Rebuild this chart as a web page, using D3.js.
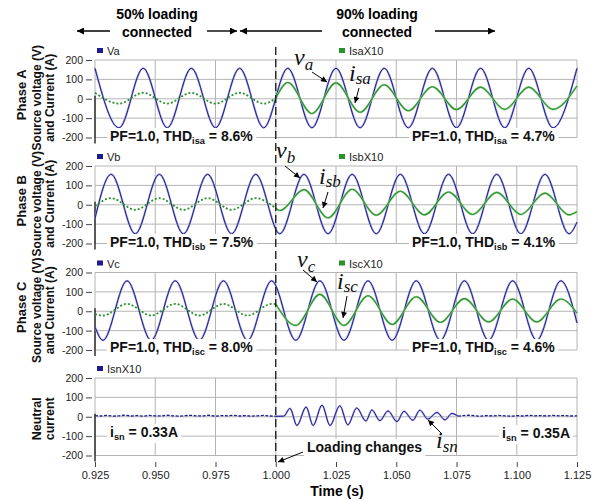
<!DOCTYPE html>
<html><head><meta charset="utf-8">
<script src="https://cdn.jsdelivr.net/npm/d3@7"></script>
<style>
body{margin:0;background:#fff;}
svg{display:block;font-family:"Liberation Sans",Arial,sans-serif;}
</style></head><body>
<svg id="c" width="606" height="500"></svg>
<script>
// ---------------- data ----------------
const timeTicks = [0.925,0.950,0.975,1.000,1.025,1.050,1.075,1.100,1.125];
const yTicks = [200,100,0,-100,-200];
const phaseNames = ["Phase A","Phase B","Phase C"];
const legendV = ["Va","Vb","Vc"];
const legendI = ["IsaX10","IsbX10","IscX10"];
const thdSub = ["isa","isb","isc"];
const thdBefore = ["8.6","7.5","8.0"];
const thdAfter = ["4.7","4.1","4.6"];
const isnBefore = "0.33";
const isnAfter = "0.35";

const vaPts = [[0.925,157],[0.935,-150],[0.945,157],[0.955,-150],[0.965,157],[0.975,-150],[0.985,157],[0.995,-150],[1.005,157],[1.015,-150],[1.025,157],[1.035,-150],[1.045,157],[1.055,-150],[1.065,157],[1.075,-150],[1.085,157],[1.095,-150],[1.105,157],[1.115,-150],[1.125,157]];
const vbPts = [[0.925,-70],[0.9317,157],[0.9417,-150],[0.9517,157],[0.9617,-150],[0.9717,157],[0.9817,-150],[0.9917,157],[1.0017,-150],[1.0117,157],[1.0217,-150],[1.0317,157],[1.0417,-150],[1.0517,157],[1.0617,-150],[1.0717,157],[1.0817,-150],[1.0917,157],[1.1017,-150],[1.1117,157],[1.1217,-150],[1.125,-90]];
const vcPts = [[0.925,-80],[0.9283,-150],[0.9383,157],[0.9483,-150],[0.9583,157],[0.9683,-150],[0.9783,157],[0.9883,-150],[0.9983,157],[1.0083,-150],[1.0183,157],[1.0283,-150],[1.0383,157],[1.0483,-150],[1.0583,157],[1.0683,-150],[1.0783,157],[1.0883,-150],[1.0983,157],[1.1083,-150],[1.1183,157],[1.125,-60]];

const iaBefore = [[0.925,31],[0.935,-25],[0.945,31],[0.955,-25],[0.965,31],[0.975,-25],[0.985,31],[0.995,-25],[1.000,2]];
const iaAfter = [[1.000,2],[1.005,84],[1.015,-76],[1.025,82],[1.035,-70],[1.045,72],[1.055,-62],[1.065,62],[1.075,-56],[1.085,60],[1.095,-55],[1.105,60],[1.115,-55],[1.125,66]];
const ibBefore = [[0.925,-8],[0.9317,34],[0.9417,-26],[0.9517,34],[0.9617,-26],[0.9717,34],[0.9817,-26],[0.9917,34],[1.000,-18]];
const ibAfter = [[1.000,-18],[1.0017,-30],[1.0117,78],[1.0217,-68],[1.0317,80],[1.0417,-54],[1.0517,70],[1.0617,-52],[1.0717,66],[1.0817,-50],[1.0917,64],[1.1017,-50],[1.1117,60],[1.1217,-52],[1.125,-35]];
const icBefore = [[0.925,-15],[0.9283,-22],[0.9383,38],[0.9483,-22],[0.9583,38],[0.9683,-22],[0.9783,38],[0.9883,-22],[0.9983,38],[1.000,37]];
const icAfter = [[1.000,37],[1.0083,-73],[1.0183,87],[1.0283,-73],[1.0383,80],[1.0483,-68],[1.0583,75],[1.0683,-57],[1.0783,65],[1.0883,-55],[1.0983,63],[1.1083,-55],[1.1183,63],[1.125,-10]];

const isnNoiseBefore = [[0.925,6],[0.9275,4],[0.930,7],[0.9325,3],[0.935,5],[0.9375,8],[0.940,4],[0.9425,6],[0.945,3],[0.9475,7],[0.950,5],[0.9525,4],[0.955,8],[0.9575,5],[0.960,3],[0.9625,6],[0.965,7],[0.9675,4],[0.970,5],[0.9725,8],[0.975,3],[0.9775,6],[0.980,5],[0.9825,7],[0.985,4],[0.9875,6],[0.990,3],[0.9925,5],[0.995,7],[0.9975,4],[1.000,2]];
const isnTransient = [[1.000,2],[1.0033,3],[1.0059,43],[1.0088,-45],[1.0126,50],[1.0155,-45],[1.0192,60],[1.0225,-45],[1.0266,57],[1.0299,-42],[1.0336,45],[1.0374,-22],[1.0399,35],[1.0432,-20],[1.0466,30],[1.0503,-25],[1.0532,28],[1.0569,-18],[1.0598,34],[1.0631,-12],[1.0669,22],[1.0702,-16],[1.0731,17],[1.0756,3]];
const isnNoiseAfter = [[1.0756,3],[1.0775,6],[1.080,8],[1.0825,5],[1.085,3],[1.0875,6],[1.090,4],[1.0925,7],[1.095,5],[1.0975,3],[1.100,6],[1.1025,4],[1.105,7],[1.1075,5],[1.110,6],[1.1125,4],[1.115,7],[1.1175,5],[1.120,6],[1.1225,4],[1.125,5]];

const voltages = [vaPts, vbPts, vcPts];
const currentsBefore = [iaBefore, ibBefore, icBefore];
const currentsAfter = [iaAfter, ibAfter, icAfter];

// ---------------- layout ----------------
const svg = d3.select("#c");
const NAVY = "#1c1c8c", LAV = "#9a9ad8", GREEN = "#2a922a", LGREEN = "#90cf90", GRID = "#b4b4b4";
const x = d3.scaleLinear().domain([0.925,1.125]).range([95,577]);
const panelTop = [60,166,272.5,378];
const panelH = 77.5;
const ys = panelTop.map(t => d3.scaleLinear().domain([-200,200]).range([t+panelH, t]));

const defs = svg.append("defs");
function marker(id, w, h){
  defs.append("marker").attr("id",id).attr("viewBox","0 0 10 10").attr("refX",10).attr("refY",5)
    .attr("markerWidth",w).attr("markerHeight",h).attr("markerUnits","userSpaceOnUse").attr("orient","auto")
    .append("path").attr("d","M0,0 L10,5 L0,10 z").attr("fill","#000");
}
marker("ah",10,7);
marker("as",8,6);

// grids & axes
ys.forEach((y,i) => {
  const g = svg.append("g");
  g.selectAll("line.h").data(yTicks).join("line")
    .attr("x1",x.range()[0]).attr("x2",x.range()[1]).attr("y1",d=>y(d)).attr("y2",d=>y(d))
    .attr("stroke",GRID).attr("stroke-width",1);
  g.selectAll("line.v").data(timeTicks).join("line")
    .attr("x1",d=>x(d)).attr("x2",d=>x(d)).attr("y1",y(200)).attr("y2",y(-200))
    .attr("stroke",GRID).attr("stroke-width",1);
  g.append("line").attr("x1",95).attr("x2",95).attr("y1",y(0)-3).attr("y2",y(-200)+6)
    .attr("stroke","#222").attr("stroke-width",1.4);
  const ax = svg.append("g").attr("transform","translate(92,0)")
    .call(d3.axisLeft(y).tickValues(yTicks).tickSize(6).tickPadding(3).tickFormat(d=>String(d)));
  ax.select(".domain").remove();
  ax.selectAll("line").attr("stroke","#444");
  ax.selectAll("text").attr("font-size",10.5).attr("fill","#222").attr("font-family","Liberation Sans, Arial, sans-serif");
});

const xa = svg.append("g").attr("transform","translate(0,462)")
  .call(d3.axisBottom(x).tickValues(timeTicks).tickSize(5).tickPadding(4).tickFormat(d3.format(".3f")));
xa.select(".domain").remove();
xa.selectAll("line").attr("stroke","#444");
xa.selectAll("text").attr("font-size",11).attr("fill","#222").attr("font-family","Liberation Sans, Arial, sans-serif");

svg.append("text").attr("x",337).attr("y",496).attr("text-anchor","middle")
  .attr("font-size",14).attr("font-weight","bold").text("Time (s)");

// waveforms
function drawLine(data, y, curve, color, width, dash, halo){
  const gen = d3.line().x(d=>x(d[0])).y(d=>y(d[1])).curve(curve);
  if (halo) svg.append("path").attr("d",gen(data)).attr("fill","none")
      .attr("stroke",halo).attr("stroke-width",width+1).attr("opacity",0.85);
  const p = svg.append("path").attr("d",gen(data)).attr("fill","none")
    .attr("stroke",color).attr("stroke-width",width);
  if (dash) p.attr("stroke-dasharray",dash);
}

for (let i=0;i<3;i++){
  const y = ys[i];
  drawLine(voltages[i], y, d3.curveMonotoneX, NAVY, 1, null, LAV);
  drawLine(currentsBefore[i], y, d3.curveMonotoneX, GREEN, 1.8, "2,2", null);
  drawLine(currentsAfter[i], y, d3.curveMonotoneX, GREEN, 1.1, null, LGREEN);
}
drawLine(isnNoiseBefore, ys[3], d3.curveLinear, NAVY, 1.3, "3,1.5", null);
drawLine(isnTransient, ys[3], d3.curveMonotoneX, NAVY, 1, null, LAV);
drawLine(isnNoiseAfter, ys[3], d3.curveLinear, NAVY, 1.3, "3,1.5", null);

// legends
function legend(lx, by, color, label){
  svg.append("rect").attr("x",lx).attr("y",by-7).attr("width",6).attr("height",5).attr("fill",color);
  svg.append("text").attr("x",lx+10).attr("y",by).attr("font-size",11).attr("fill","#222").text(label);
}
for (let i=0;i<3;i++){
  legend(97, panelTop[i]-5, NAVY, legendV[i]);
  legend(339, panelTop[i]-5, GREEN, legendI[i]);
}
legend(97, panelTop[3]-5, NAVY, "IsnX10");

// bold label with subscript and white background
function richLabel(lx, by, parts, size){
  const g = svg.append("g");
  const t = g.append("text").attr("x",lx).attr("y",by).attr("font-size",size).attr("font-weight","bold").attr("fill","#111");
  let sub = false;
  parts.forEach(p=>{
    const ts = t.append("tspan").text(p.t);
    if (p.sub){ ts.attr("font-size",size*0.66).attr("dy",3); sub = true; }
    else if (sub){ ts.attr("dy",-3); sub = false; }
  });
  const bb = t.node().getBBox();
  g.insert("rect","text").attr("x",bb.x-3).attr("y",bb.y).attr("width",bb.width+6).attr("height",bb.height+1).attr("fill","#fff");
}
const thdY = [141,247,352];
for (let i=0;i<3;i++){
  richLabel(110, thdY[i], [{t:"PF=1.0, THD"},{t:thdSub[i],sub:true},{t:" = "+thdBefore[i]+"%"}], 14);
  richLabel(412, thdY[i], [{t:"PF=1.0, THD"},{t:thdSub[i],sub:true},{t:" = "+thdAfter[i]+"%"}], 14);
}
richLabel(110, 437, [{t:"i"},{t:"sn",sub:true},{t:" = "+isnBefore+"A"}], 14);
richLabel(502, 438, [{t:"i"},{t:"sn",sub:true},{t:" = "+isnAfter+"A"}], 14);
richLabel(307, 452, [{t:"Loading changes"}], 14);

// y-axis titles
function vtext(cx, cy, txt, size){
  svg.append("text").attr("transform",`translate(${cx},${cy}) rotate(-90)`).attr("text-anchor","middle")
    .attr("font-size",size).attr("font-weight","bold").attr("fill","#111").text(txt);
}
for (let i=0;i<3;i++){
  const cy = ys[i](0);
  vtext(26, cy-4, phaseNames[i], 13);
  vtext(41, cy-1, "Source voltage (V)", 12);
  vtext(54, cy-1, "and Current (A)", 12);
}
vtext(41, ys[3](0)+2, "Neutral", 12.5);
vtext(54, ys[3](0)+2, "current", 12.5);

// header
const hdr = [["50% loading",157],["90% loading",377]];
hdr.forEach(h=>{
  svg.append("text").attr("x",h[1]).attr("y",19).attr("text-anchor","middle").attr("font-size",14).attr("font-weight","bold").text(h[0]);
  svg.append("text").attr("x",h[1]).attr("y",37).attr("text-anchor","middle").attr("font-size",14).attr("font-weight","bold").text("connected");
});
function arrow(x1,y1,x2,y2,m,w){
  svg.append("line").attr("x1",x1).attr("y1",y1).attr("x2",x2).attr("y2",y2)
    .attr("stroke","#000").attr("stroke-width",w).attr("marker-end",`url(#${m})`);
}
arrow(110,31,77,31,"ah",1.4);
arrow(207,31,237,31,"ah",1.4);
arrow(322,31,240,31,"ah",1.4);
arrow(435,31,495,31,"ah",1.4);

// transition dashed line
svg.append("line").attr("x1",x(1.0)).attr("x2",x(1.0)).attr("y1",47).attr("y2",462)
  .attr("stroke","#222").attr("stroke-width",1.4).attr("stroke-dasharray","8,4");
arrow(303,452,278,462,"as",1);

// italic annotations
function ital(lx, by, main, sub, dy){
  svg.append("text").attr("x",lx).attr("y",by).attr("font-family","Liberation Serif, Times New Roman, serif")
    .attr("font-style","italic").attr("font-size",24).attr("fill","#111")
    .text(main).append("tspan").attr("font-size",17).attr("dy",dy).text(sub);
}
ital(294,65,"v","a",5);
arrow(312,72,327,82,"as",1);
ital(349,81,"i","sa",3);
arrow(359,88,355,103,"as",1);
ital(276,158,"v","b",5);
arrow(285,166,300,178,"as",1);
ital(319,184,"i","sb",3);
arrow(328,192,323,208,"as",1);
ital(297,267,"v","c",5);
arrow(303,270,317,282,"as",1);
ital(337,289,"i","sc",3);
arrow(347,296,343,318,"as",1);
ital(436,448,"i","sn",4);
arrow(442,434,428,420,"as",1);
</script>
</body></html>
